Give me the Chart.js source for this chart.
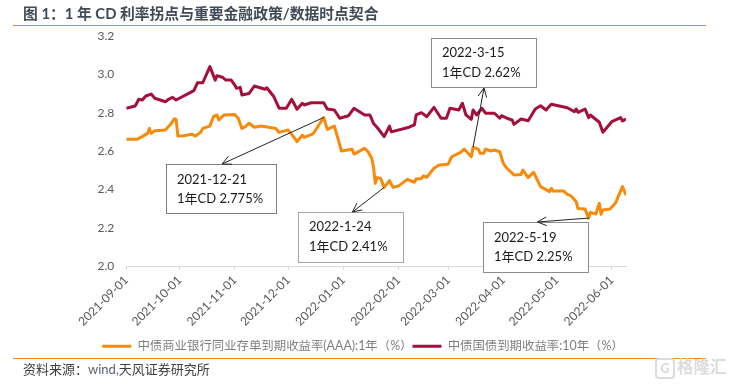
<!DOCTYPE html>
<html>
<head>
<meta charset="utf-8">
<script src="https://cdn.jsdelivr.net/npm/chart.js@4"></script>
<style>
html,body{margin:0;padding:0;background:#fff;width:729px;height:384px;overflow:hidden}
#wrap{position:relative;width:729px;height:384px}
canvas{position:absolute;left:0;top:0}
.t{position:absolute;white-space:nowrap;font-family:Lato,"Noto Sans CJK SC",sans-serif}
#title{left:23px;top:1px;line-height:24px;font-size:14.8px;font-weight:700;color:#414a56}
#source{left:23px;top:360px;line-height:18px;font-size:13px;color:#404040}
#source span{color:#5a6070}
.rule{position:absolute;left:13px;width:693px;height:1px}
#wm{left:655px;top:357px;font-size:16.5px;line-height:20px;font-weight:700;color:#dcdcdc}
#wm b{display:inline-block;width:16px;height:17px;line-height:16px;text-align:center;border:2px solid #dcdcdc;border-radius:4px;margin-right:2px;font-size:13px}
</style>
</head>
<body>
<div id="wrap">
<canvas id="c" width="729" height="384"></canvas>
<div class="t" id="title">图 1：1 年 CD 利率拐点与重要金融政策/数据时点契合</div>
<div class="rule" style="top:25px;background:#e0843f"></div>
<div class="rule" style="top:358px;background:#f08a1d"></div>
<div class="t" id="source">资料来源：<span>wind,</span>天风证券研究所</div>
<div class="t" id="wm"><b>G</b>格隆汇</div>
</div>
<script>
const seriesNames = ['中债商业银行同业存单到期收益率(AAA):1年（%）', '中债国债到期收益率:10年（%）'];
const tickLabels = ['2021-09-01','2021-10-01','2021-11-01','2021-12-01','2022-01-01','2022-02-01','2022-03-01','2022-04-01','2022-05-01','2022-06-01'];
const yTicks = [2.0,2.2,2.4,2.6,2.8,3.0,3.2];
// days counted from 2021-09-01
const cdDays = [0,3,6,9,12,13,14,16,22,24,25,27,28,29,32,37,39,42,43,47,49,51,52,55,61,63,65,67,69,72,76,80,84,86,91,94,96,99,100,105,111,113,117,119,121,127,128,134,136,138,139,140,141,143,145,148,150,153,158,162,163,166,167,169,173,176,181,183,188,190,194,195,198,199,201,202,205,207,210,212,214,218,222,223,226,229,233,238,239,240,246,248,250,253,254,258,260,261,264,266,267,268,272,275,279,281];
const cdRate = [2.661,2.661,2.661,2.675,2.692,2.718,2.692,2.706,2.71,2.73,2.74,2.768,2.765,2.678,2.68,2.687,2.678,2.70,2.718,2.73,2.779,2.788,2.762,2.788,2.791,2.77,2.718,2.727,2.745,2.724,2.73,2.724,2.718,2.697,2.71,2.675,2.649,2.683,2.671,2.689,2.775,2.713,2.73,2.666,2.60,2.609,2.584,2.614,2.596,2.562,2.518,2.431,2.461,2.457,2.41,2.445,2.41,2.417,2.452,2.437,2.454,2.457,2.47,2.463,2.51,2.527,2.531,2.57,2.593,2.61,2.57,2.62,2.609,2.588,2.588,2.61,2.60,2.605,2.596,2.536,2.51,2.475,2.478,2.50,2.461,2.489,2.414,2.388,2.405,2.391,2.391,2.374,2.367,2.335,2.30,2.297,2.25,2.28,2.271,2.327,2.27,2.292,2.297,2.327,2.414,2.37];
const bondDays = [0,5,7,9,11,14,16,22,24,26,28,38,40,43,47,50,51,54,56,59,61,62,64,65,69,72,78,79,83,86,90,93,96,99,100,104,111,113,117,120,125,128,134,137,139,141,145,148,149,159,162,163,166,169,173,177,180,182,187,189,191,194,195,197,200,202,207,210,211,214,217,218,222,226,230,233,236,239,248,252,253,254,258,260,261,266,268,273,278,279,281];
const bondRate = [2.823,2.835,2.87,2.866,2.887,2.897,2.875,2.857,2.871,2.88,2.866,2.915,2.956,2.956,3.04,2.97,2.993,2.985,2.97,2.97,2.944,2.927,2.932,2.892,2.90,2.939,2.922,2.93,2.883,2.823,2.823,2.87,2.818,2.849,2.84,2.852,2.852,2.819,2.814,2.771,2.784,2.823,2.788,2.788,2.744,2.724,2.675,2.73,2.70,2.724,2.736,2.788,2.80,2.779,2.828,2.771,2.771,2.823,2.814,2.849,2.788,2.765,2.814,2.788,2.823,2.797,2.797,2.771,2.784,2.771,2.762,2.739,2.767,2.758,2.819,2.836,2.814,2.844,2.826,2.805,2.819,2.802,2.819,2.774,2.788,2.75,2.698,2.753,2.774,2.757,2.767];
const noteDays = [111,145,195,260];
const noteRates = [2.775,2.41,2.62,2.25];
const noteDates = ['2021-12-21','2022-1-24','2022-3-15','2022-5-19'];
const noteTexts = ['1年CD 2.775%','1年CD 2.41%','1年CD 2.62%','1年CD 2.25%'];

const FONT = 'Lato, "Noto Sans CJK SC", sans-serif';
const dayOf = s => Math.round((Date.parse(s) - Date.parse(tickLabels[0])) / 864e5);
const tickDays = tickLabels.map(dayOf);
const pairs = (xs, ys) => xs.map((x, i) => ({x, y: ys[i]}));

// callout layout: box [x,y,w,h], text x, line centres, arrow tip
const callouts = [
  {box:[166.5,164.5,110,49], tx:177, ly:[179.5,199], tip:[222,164], col:'#7f7f7f'},
  {box:[298.5,212.5,105,50], tx:309, ly:[227,246.5], tip:[352.5,212], col:'#a6a6a6'},
  {box:[431.5,38.5,105,49],  tx:442, ly:[53,72.5],   tip:[484,88],  col:'#8c8c8c'},
  {box:[483.5,222.5,105,50], tx:494, ly:[237.5,257], tip:[537.5,222], col:'#8c8c8c'}
];

const notesPlugin = {
  id: 'notes',
  afterLayout(chart){
    // centre the legend on the page rather than on the plot
    if (chart.legend){ chart.legend.left += 50; chart.legend.right += 50; }
  },
  afterDraw(chart){
    const {ctx, scales:{x, y}} = chart;
    ctx.save();
    callouts.forEach((c, i) => {
      const [bx,by,bw,bh] = c.box;
      ctx.fillStyle = '#fff';
      ctx.strokeStyle = c.col;
      ctx.lineWidth = 1;
      ctx.fillRect(bx,by,bw,bh);
      ctx.strokeRect(bx,by,bw,bh);
      ctx.fillStyle = '#1a1a1a';
      ctx.font = '13px ' + FONT;
      ctx.textAlign = 'left';
      ctx.textBaseline = 'middle';
      ctx.fillText(noteDates[i], c.tx, c.ly[0]);
      ctx.fillText(noteTexts[i], c.tx, c.ly[1]);
      // arrow from the data point to the box
      const sx = x.getPixelForValue(noteDays[i]), sy = y.getPixelForValue(noteRates[i]);
      const [tx,ty] = c.tip;
      const a = Math.atan2(ty - sy, tx - sx), L = 10, w = 0.45;
      ctx.strokeStyle = '#222';
      ctx.lineWidth = 1;
      ctx.beginPath();
      ctx.moveTo(sx,sy); ctx.lineTo(tx,ty);
      ctx.moveTo(tx - L*Math.cos(a-w), ty - L*Math.sin(a-w));
      ctx.lineTo(tx,ty);
      ctx.lineTo(tx - L*Math.cos(a+w), ty - L*Math.sin(a+w));
      ctx.stroke();
    });
    ctx.restore();
  }
};

new Chart(document.getElementById('c'), {
  type: 'line',
  data: {
    datasets: [
      {label: seriesNames[0], data: pairs(cdDays, cdRate), borderColor:'#f78a0b', backgroundColor:'#f78a0b', borderWidth:3, pointRadius:0, tension:0, borderJoinStyle:'round'},
      {label: seriesNames[1], data: pairs(bondDays, bondRate), borderColor:'#a50f3c', backgroundColor:'#a50f3c', borderWidth:3, pointRadius:0, tension:0, borderJoinStyle:'round'}
    ]
  },
  plugins: [notesPlugin],
  options: {
    responsive:false,
    animation:false,
    layout:{padding:{left:0,right:103,top:36,bottom:21.6}},
    plugins:{
      tooltip:{enabled:false},
      title:{display:false},
      legend:{
        display:true, position:'bottom', align:'center',
        labels:{
          boxWidth:29, boxHeight:3, padding:0, color:'#7f7f7f', font:{family:FONT,size:12.4},
          generateLabels(chart){
            return Chart.defaults.plugins.legend.labels.generateLabels(chart).map(l => ({...l, lineWidth:0}));
          }
        }
      }
    },
    scales:{
      x:{
        type:'linear', min:0, max:281,
        afterBuildTicks(s){ s.ticks = tickDays.map(v => ({value:v})); },
        afterFit(s){ s.height = 74; },
        border:{color:'#d9d9d9',width:1},
        grid:{drawOnChartArea:false, drawTicks:true, tickLength:4, color:'#d9d9d9'},
        ticks:{
          autoSkip:false, minRotation:45, maxRotation:45, padding:3,
          color:'#595959', font:{family:FONT,size:12},
          callback(v){ const i = tickDays.indexOf(v); return i >= 0 ? tickLabels[i] : ''; }
        }
      },
      y:{
        min:2.0, max:3.2,
        afterBuildTicks(s){ s.ticks = yTicks.map(v => ({value:v})); },
        afterFit(s){ s.width = 126.3; },
        border:{display:false},
        grid:{display:false, drawTicks:false},
        ticks:{padding:12, color:'#595959', font:{family:FONT,size:12}, callback:v => Number(v).toFixed(1)}
      }
    }
  }
});
</script>
</body>
</html>
